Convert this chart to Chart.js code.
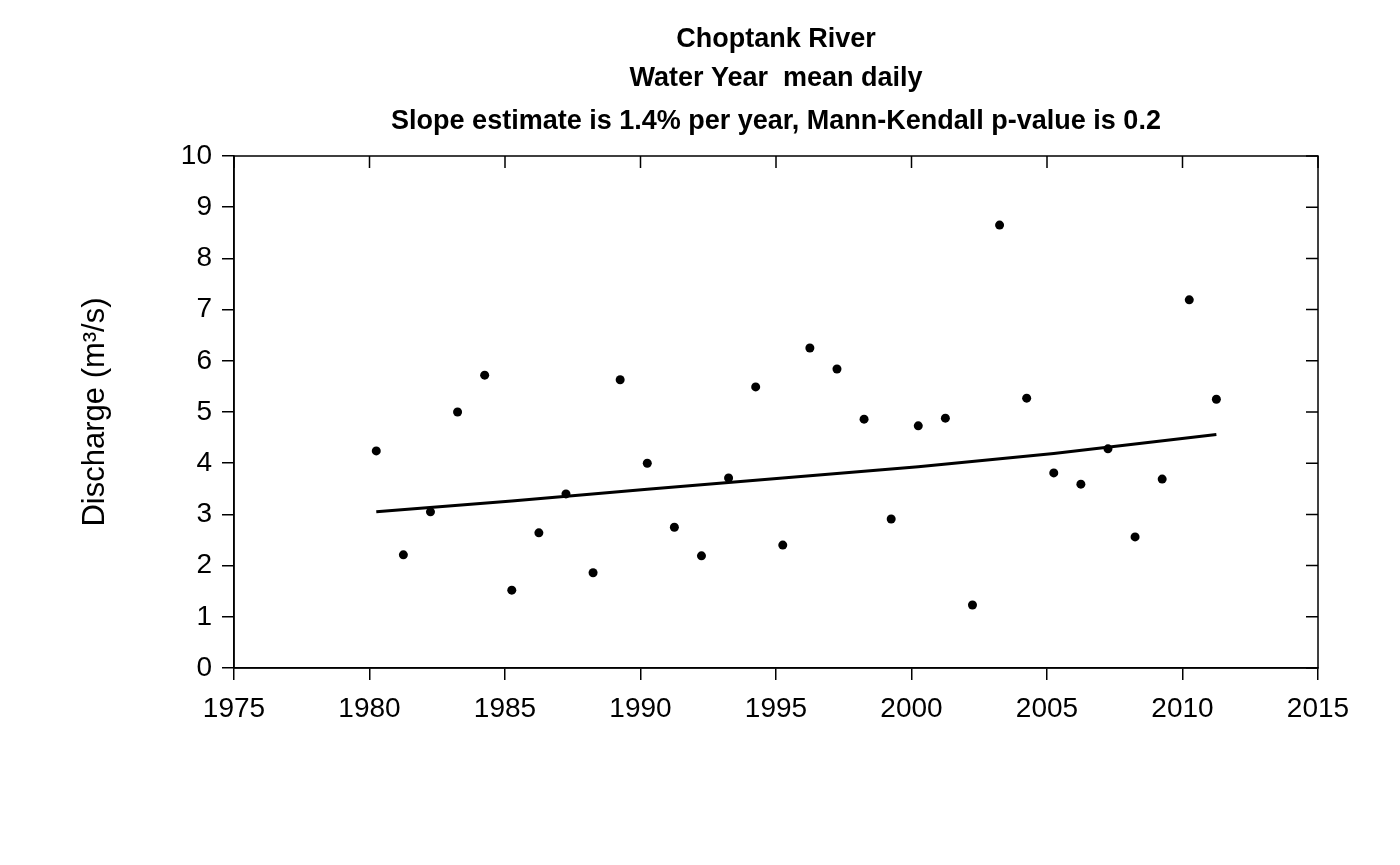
<!DOCTYPE html>
<html><head><meta charset="utf-8">
<script src="https://cdn.jsdelivr.net/npm/chart.js@4/dist/chart.umd.min.js"></script>
<style>body{margin:0;background:#fff}#wrap{width:1400px;height:865px}</style>
</head><body><div id="wrap"><canvas id="c"></canvas></div>
<script>
const years = [1980.25,1981.25,1982.25,1983.25,1984.25,1985.25,1986.25,1987.25,1988.25,1989.25,1990.25,1991.25,1992.25,1993.25,1994.25,1995.25,1996.25,1997.25,1998.25,1999.25,2000.25,2001.25,2002.25,2003.25,2004.25,2005.25,2006.25,2007.25,2008.25,2009.25,2010.25,2011.25];
const discharge = [4.24,2.21,3.05,5.0,5.72,1.52,2.64,3.40,1.86,5.63,4.0,2.75,2.19,3.71,5.49,2.40,6.25,5.84,4.86,2.91,4.73,4.88,1.23,8.65,5.27,3.81,3.59,4.28,2.56,3.69,7.19,5.25];
const trendYears = [1980.25,1985.25,1990.25,1995.25,2000.25,2005.25,2011.25];
const trendValues = [3.05,3.26,3.49,3.71,3.93,4.19,4.56];
const titleLines = ['Choptank River','Water Year  mean daily','Slope estimate is 1.4% per year, Mann-Kendall p-value is 0.2'];
const yLabel = 'Discharge (m\u00B3/s)';

const FONT = 'Liberation Sans, Arial, sans-serif';

const boxPlugin = {
  id: 'box',
  afterDraw(chart) {
    const ctx = chart.ctx, a = chart.chartArea;
    const x = chart.scales.x, y = chart.scales.y;
    ctx.save();
    ctx.strokeStyle = '#000'; ctx.lineWidth = 1.5;
    ctx.strokeRect(a.left, a.top, a.right - a.left, a.bottom - a.top);
    // inward ticks on top and right
    ctx.beginPath();
    for (let v = 1975; v <= 2015; v += 5) {
      const px = x.getPixelForValue(v);
      ctx.moveTo(px, a.top); ctx.lineTo(px, a.top + 12);
    }
    for (let v = 0; v <= 10; v++) {
      const py = y.getPixelForValue(v);
      ctx.moveTo(a.right, py); ctx.lineTo(a.right - 12, py);
    }
    ctx.stroke();
    // titles
    ctx.fillStyle = '#000'; ctx.textAlign = 'center'; ctx.textBaseline = 'middle';
    ctx.font = 'bold 27px ' + FONT;
    const cx = (a.left + a.right) / 2;
    [40, 79, 122].forEach((ty, i) => ctx.fillText(titleLines[i], cx, ty));
    // y label
    ctx.font = '31px ' + FONT;
    ctx.translate(95, (a.top + a.bottom) / 2);
    ctx.rotate(-Math.PI / 2);
    ctx.fillText(yLabel, 0, 0);
    ctx.restore();
  }
};

new Chart(document.getElementById('c'), {
  type: 'scatter',
  data: {
    datasets: [
      { data: years.map((v, i) => ({x: v, y: discharge[i]})), pointRadius: 4.5, pointBackgroundColor: '#000', pointBorderWidth: 0 },
      { type: 'line', data: trendYears.map((v, i) => ({x: v, y: trendValues[i]})), borderColor: '#000', borderWidth: 3, pointRadius: 0, tension: 0 }
    ]
  },
  options: {
    responsive: true, maintainAspectRatio: false, animation: false,
    layout: { padding: { top: 156, right: 82, bottom: 147, left: 0 } },
    plugins: { legend: { display: false }, tooltip: { enabled: false } },
    scales: {
      x: {
        type: 'linear', min: 1975, max: 2015,
        afterFit(s) { s.height = 50; },
        ticks: { stepSize: 5, color: '#000', font: { size: 28, family: FONT }, padding: 12, maxRotation: 0, callback: v => String(v) },
        grid: { drawOnChartArea: false, color: '#000', tickLength: 12, lineWidth: 1.5 },
        border: { color: '#000', width: 1.5 }
      },
      y: {
        min: 0, max: 10,
        afterFit(s) { s.width = 234; },
        ticks: { stepSize: 1, color: '#000', font: { size: 28, family: FONT }, padding: 10 },
        grid: { drawOnChartArea: false, color: '#000', tickLength: 12, lineWidth: 1.5 },
        border: { color: '#000', width: 1.5 }
      }
    }
  },
  plugins: [boxPlugin]
});
</script></body></html>
